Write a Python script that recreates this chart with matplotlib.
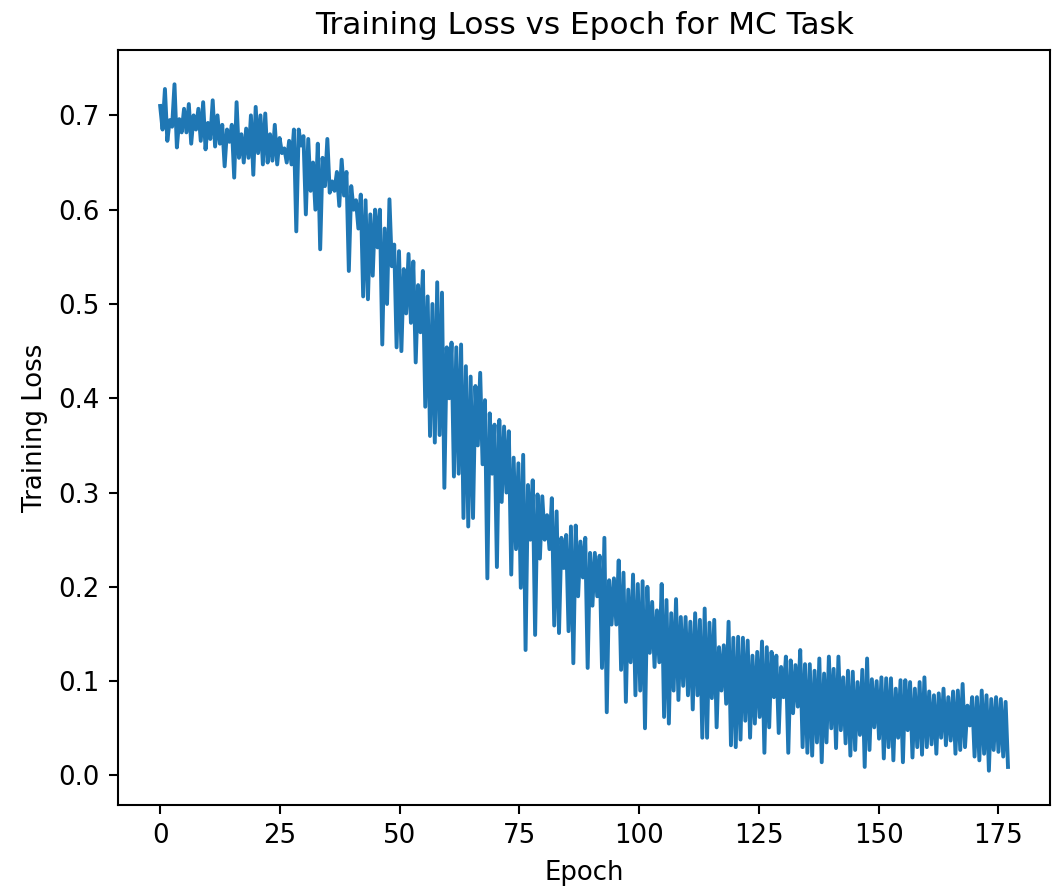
import numpy as np
import matplotlib
matplotlib.use("Agg")
import matplotlib.pyplot as plt

# Per-epoch (high, low) pairs of the training loss
loss_high = [
    0.710, 0.728, 0.695, 0.733, 0.696, 0.707, 0.712, 0.700, 0.707, 0.714,
    0.692, 0.716, 0.700, 0.690, 0.685, 0.690, 0.714, 0.680, 0.686, 0.700,
    0.709, 0.700, 0.702, 0.680, 0.690, 0.676, 0.665, 0.673, 0.685, 0.685,
    0.678, 0.675, 0.650, 0.670, 0.655, 0.675, 0.630, 0.640, 0.653, 0.640,
    0.625, 0.610, 0.616, 0.610, 0.595, 0.600, 0.600, 0.580, 0.611, 0.563,
    0.556, 0.537, 0.553, 0.545, 0.520, 0.535, 0.508, 0.500, 0.523, 0.512,
    0.454, 0.459, 0.454, 0.457, 0.434, 0.423, 0.413, 0.427, 0.398, 0.384,
    0.372, 0.377, 0.370, 0.365, 0.337, 0.331, 0.340, 0.308, 0.313, 0.298,
    0.296, 0.276, 0.294, 0.280, 0.252, 0.255, 0.264, 0.265, 0.248, 0.252,
    0.236, 0.236, 0.233, 0.252, 0.207, 0.209, 0.228, 0.215, 0.197, 0.213,
    0.203, 0.206, 0.200, 0.184, 0.175, 0.203, 0.186, 0.172, 0.187, 0.168,
    0.168, 0.163, 0.172, 0.165, 0.177, 0.162, 0.165, 0.136, 0.138, 0.163,
    0.146, 0.147, 0.146, 0.143, 0.127, 0.131, 0.142, 0.136, 0.131, 0.127,
    0.115, 0.126, 0.122, 0.117, 0.133, 0.118, 0.118, 0.111, 0.124, 0.108,
    0.126, 0.113, 0.126, 0.104, 0.111, 0.110, 0.099, 0.112, 0.124, 0.102,
    0.100, 0.104, 0.103, 0.103, 0.092, 0.101, 0.101, 0.099, 0.092, 0.099,
    0.104, 0.089, 0.085, 0.087, 0.092, 0.083, 0.089, 0.090, 0.097, 0.074,
    0.083, 0.083, 0.090, 0.085, 0.081, 0.083, 0.081, 0.078,
]
loss_low = [
    0.685, 0.673, 0.688, 0.666, 0.682, 0.682, 0.670, 0.685, 0.673, 0.664,
    0.675, 0.667, 0.670, 0.646, 0.672, 0.634, 0.655, 0.650, 0.655, 0.637,
    0.660, 0.648, 0.650, 0.652, 0.648, 0.660, 0.650, 0.648, 0.577, 0.668,
    0.595, 0.620, 0.600, 0.558, 0.625, 0.618, 0.620, 0.604, 0.615, 0.535,
    0.600, 0.580, 0.508, 0.505, 0.530, 0.560, 0.457, 0.500, 0.540, 0.454,
    0.450, 0.490, 0.480, 0.438, 0.470, 0.391, 0.360, 0.353, 0.361, 0.305,
    0.400, 0.317, 0.320, 0.273, 0.264, 0.273, 0.350, 0.330, 0.209, 0.320,
    0.221, 0.290, 0.300, 0.213, 0.240, 0.199, 0.133, 0.250, 0.149, 0.230,
    0.250, 0.240, 0.159, 0.151, 0.220, 0.153, 0.119, 0.190, 0.210, 0.114,
    0.180, 0.190, 0.114, 0.067, 0.160, 0.160, 0.112, 0.078, 0.120, 0.085,
    0.090, 0.050, 0.130, 0.115, 0.120, 0.062, 0.055, 0.090, 0.080, 0.095,
    0.085, 0.070, 0.085, 0.040, 0.040, 0.082, 0.051, 0.090, 0.076, 0.032,
    0.030, 0.038, 0.058, 0.040, 0.055, 0.062, 0.024, 0.051, 0.083, 0.045,
    0.083, 0.024, 0.066, 0.073, 0.030, 0.024, 0.021, 0.035, 0.014, 0.035,
    0.050, 0.029, 0.048, 0.034, 0.021, 0.027, 0.043, 0.009, 0.027, 0.051,
    0.039, 0.018, 0.030, 0.016, 0.040, 0.014, 0.048, 0.019, 0.030, 0.022,
    0.030, 0.033, 0.023, 0.040, 0.032, 0.037, 0.023, 0.027, 0.030, 0.053,
    0.020, 0.016, 0.023, 0.005, 0.027, 0.025, 0.020, 0.009,
]

loss = []
for h, l in zip(loss_high, loss_low):
    loss.extend([h, l])
loss = np.array(loss)
epochs = np.arange(len(loss)) * 0.5
epochs = epochs * (177.0 / epochs[-1])

s = 1.87
plt.rcParams.update({
    "font.family": ["DejaVu Sans"],
    "font.size": 10 * s,
    "axes.titlesize": 12 * s,
    "axes.labelsize": 10 * s,
    "xtick.labelsize": 10 * s,
    "ytick.labelsize": 10 * s,
    "axes.linewidth": 0.8 * s,
    "xtick.major.width": 0.8 * s,
    "ytick.major.width": 0.8 * s,
    "xtick.major.size": 3.5 * s,
    "ytick.major.size": 3.5 * s,
    "xtick.major.pad": 3.5 * s,
    "ytick.major.pad": 3.5 * s,
})

fig = plt.figure(figsize=(10.61, 8.92), dpi=100)
ax = fig.add_axes([0.111, 0.0975, 0.879, 0.8465])
ax.plot(epochs, loss, color="#1f77b4", linewidth=1.5 * s)
ax.set_title("Training Loss vs Epoch for MC Task", pad=6 * s)
ax.set_xlabel("Epoch", labelpad=4 * s)
ax.set_ylabel("Training Loss", labelpad=4 * s)
ax.set_xticks([0, 25, 50, 75, 100, 125, 150, 175])
ax.set_yticks([0.0, 0.1, 0.2, 0.3, 0.4, 0.5, 0.6, 0.7])

fig.savefig("out.png", dpi=100)
